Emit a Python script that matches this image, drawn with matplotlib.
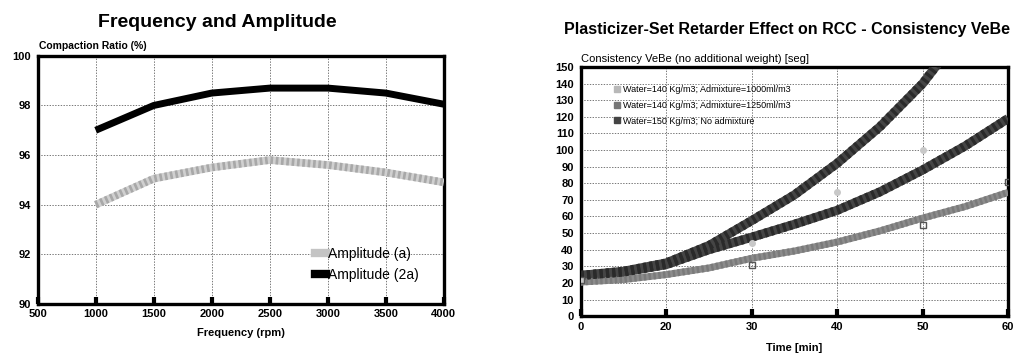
import matplotlib
matplotlib.use("Agg")
import matplotlib.pyplot as plt
from matplotlib.lines import Line2D

plt.rcParams['font.family'] = ['Liberation Sans', 'DejaVu Sans']

# Left chart data
freq = [1000, 1500, 2000, 2500, 3000, 3500, 4000]
amp_a = [94.0, 95.05, 95.5, 95.8, 95.6, 95.3, 94.9]
amp_2a = [97.0, 98.0, 98.5, 98.7, 98.7, 98.5, 98.05]

# Right chart data (x is category position, labels below)
time_labels = ['0', '20', '30', '40', '50', '60']
pos_a = [0, 0.5, 1, 1.5, 2, 2.5, 3, 3.5, 4, 4.3]
curve_a = [24.5, 27, 32, 42.5, 57.5, 73, 92, 114, 140, 160]
pos_bc = [0, 0.5, 1, 1.5, 2, 2.5, 3, 3.5, 4, 4.5, 5]
curve_b = [24.5, 26.5, 31, 40, 47.5, 55.3, 63.7, 74.8, 88, 102.5, 119]
curve_c = [20.5, 22, 25, 29, 34.8, 39.2, 44.6, 51.3, 59, 66, 74.5]
pts1_x = [0, 2, 3, 4]
pts1_y = [22, 44, 75, 100]
pts2_x = [0, 2, 4, 5]
pts2_y = [22, 31, 55, 81]
legend_labels = ['Water=140 Kg/m3; Admixture=1000ml/m3',
                 'Water=140 Kg/m3; Admixture=1250ml/m3',
                 'Water=150 Kg/m3; No admixture']

fig = plt.figure(figsize=(10.18, 3.58), dpi=100)


def hatched(ax, x, y, base, stripe, lw, z=3):
    ax.plot(x, y, color=base, lw=lw, solid_capstyle='butt', zorder=z)
    ax.plot(x, y, color=stripe, lw=lw, dashes=(0.35, 0.35),
            dash_capstyle='butt', zorder=z + 0.1)


def style_axes(ax):
    for s in ax.spines.values():
        s.set_linewidth(2.4)
    ax.grid(True, color='#444444', linestyle=(0, (2, 2)), linewidth=0.5)
    ax.tick_params(axis='x', direction='in', length=5, width=3, pad=4,
                   labelsize=8)
    ax.tick_params(axis='y', length=0, pad=5, labelsize=8)
    for lab in ax.get_xticklabels() + ax.get_yticklabels():
        lab.set_fontweight('bold')


# ---- Left chart ----
ax1 = fig.add_axes([0.037, 0.151, 0.399, 0.693])
hatched(ax1, freq, amp_a, '#d0d0d0', '#a8a8a8', 5.5)
ax1.plot(freq, amp_2a, color='black', lw=5, solid_capstyle='butt', zorder=3)
ax1.set_xlim(500, 4000)
ax1.set_ylim(90, 100)
ax1.set_xticks(range(500, 4001, 500))
ax1.set_yticks(range(90, 101, 2))
style_axes(ax1)
ax1.set_xlabel('Frequency (rpm)', fontsize=8, fontweight='bold', labelpad=6)
fig.text(0.038, 0.862, 'Compaction Ratio (%)', fontsize=7.5, fontweight='bold')
fig.text(0.213, 0.925, 'Frequency and Amplitude', fontsize=14,
         fontweight='bold', ha='center')
handles1 = [Line2D([], [], color='#c4c4c4', lw=6),
            Line2D([], [], color='black', lw=6)]
ax1.legend(handles1, ['Amplitude (a)', 'Amplitude (2a)'], loc='lower right',
           bbox_to_anchor=(0.97, 0.04), frameon=False, fontsize=10,
           handlelength=0.8, handletextpad=0.2, labelspacing=0.5)

# ---- Right chart ----
ax2 = fig.add_axes([0.5705, 0.117, 0.4198, 0.696])
hatched(ax2, pos_bc, curve_c, '#8c8c8c', '#7a7a7a', 5)
hatched(ax2, pos_bc, curve_b, '#454545', '#2a2a2a', 6.5)
hatched(ax2, pos_a, curve_a, '#454545', '#2a2a2a', 6.5)
ax2.plot(pts1_x, pts1_y, 'o', color='#c8c8c8', ms=4, zorder=5)
ax2.plot(pts2_x, pts2_y, 's', mfc='none', mec='#555555', ms=4.5, mew=1,
         zorder=5)
ax2.set_xlim(0, 5)
ax2.set_ylim(0, 150)
ax2.set_xticks(range(len(time_labels)))
ax2.set_xticklabels(time_labels)
ax2.set_yticks(range(0, 151, 10))
style_axes(ax2)
ax2.set_xlabel('Time [min]', fontsize=8, fontweight='bold', labelpad=8)
fig.text(0.571, 0.828, 'Consistency VeBe (no additional weight) [seg]',
         fontsize=8)
fig.text(0.773, 0.905, 'Plasticizer-Set Retarder Effect on RCC - Consistency VeBe',
         fontsize=11.5, fontweight='bold', ha='center')
handles2 = [Line2D([], [], color='#b8b8b8', marker='s', ls='none', ms=4),
            Line2D([], [], color='#777777', marker='s', ls='none', ms=4),
            Line2D([], [], color='#444444', marker='s', ls='none', ms=4)]
ax2.legend(handles2, legend_labels, loc='upper left',
           bbox_to_anchor=(0.06, 0.96), frameon=False, fontsize=6.5,
           handlelength=0.6, handletextpad=0.3, labelspacing=0.75)

fig.savefig('out.png', dpi=100)
